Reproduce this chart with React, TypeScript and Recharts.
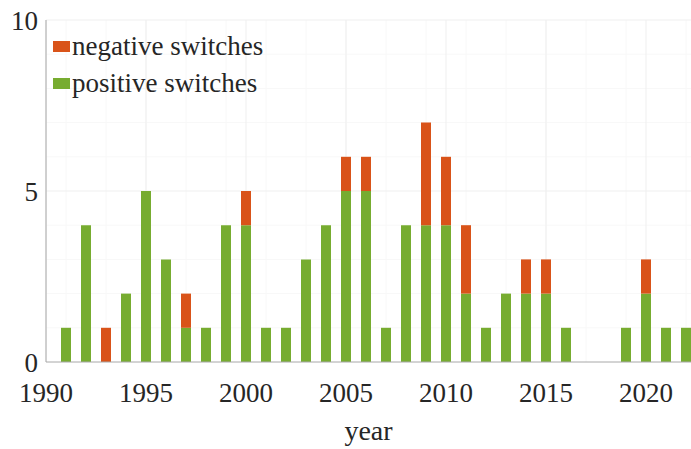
import React from 'react';
import {
  BarChart,
  Bar,
  XAxis,
  YAxis,
  CartesianGrid,
  Label,
} from 'recharts';

const years = [
  1991, 1992, 1993, 1994, 1995, 1996, 1997, 1998, 1999, 2000, 2001,
  2002, 2003, 2004, 2005, 2006, 2007, 2008, 2009, 2010, 2011, 2012,
  2013, 2014, 2015, 2016, 2017, 2018, 2019, 2020, 2021, 2022,
];
const positiveSwitches = [
  1, 4, 0, 2, 5, 3, 1, 1, 4, 4, 1,
  1, 3, 4, 5, 5, 1, 4, 4, 4, 2, 1,
  2, 2, 2, 1, 0, 0, 1, 2, 1, 1,
];
const negativeSwitches = [
  0, 0, 1, 0, 0, 0, 1, 0, 0, 1, 0,
  0, 0, 0, 1, 1, 0, 0, 3, 2, 2, 0,
  0, 1, 1, 0, 0, 0, 0, 1, 0, 0,
];
const xTicks = [1990, 1995, 2000, 2005, 2010, 2015, 2020];
const yTicks = [0, 5, 10];

const POS = '#77AC30';
const NEG = '#D95319';
const FONT =
  '"Times New Roman", Tinos, "Liberation Serif", "DejaVu Serif", "Noto Serif", serif';

const data = years.map((year, i) => ({
  year,
  positive: positiveSwitches[i],
  negative: negativeSwitches[i],
}));

const minorY = [1, 2, 3, 4, 6, 7, 8, 9];
const minorX = Array.from({ length: 33 }, (_, i) => 1990 + i);

// legend sits on top of the plot area, top-left corner
function SwitchLegend() {
  const items = [
    { label: 'negative switches', color: NEG },
    { label: 'positive switches', color: POS },
  ];
  return (
    <div
      style={{
        position: 'absolute',
        left: 53,
        top: 28,
        fontFamily: FONT,
        fontSize: 27,
        color: '#262626',
        lineHeight: '37px',
      }}
    >
      {items.map((it) => (
        <div key={it.label} style={{ display: 'flex', alignItems: 'center' }}>
          <span
            style={{
              display: 'inline-block',
              width: 17,
              height: 11,
              background: it.color,
              marginRight: 2,
            }}
          />
          <span>{it.label}</span>
        </div>
      ))}
    </div>
  );
}

export default function App() {
  return (
    <div style={{ position: 'absolute', left: 0, top: 0, background: '#fff' }}>
      <BarChart
        width={691}
        height={449}
        data={data}
        margin={{ top: 20, right: 0, bottom: 0, left: 0 }}
      >
        <CartesianGrid
          stroke="#f8f8f8"
          horizontalValues={minorY}
          verticalValues={minorX}
        />
        <CartesianGrid
          stroke="#efefef"
          horizontalValues={[5, 10]}
          verticalValues={xTicks}
        />
        <XAxis
          dataKey="year"
          type="number"
          domain={[1990, 2022.25]}
          ticks={xTicks}
          allowDataOverflow
          height={87}
          tickLine={false}
          stroke="#a8a8a8"
          tickMargin={15}
          tick={{ fill: '#262626', fontSize: 27, fontFamily: FONT }}
        >
          <Label
            value="year"
            position="insideBottom"
            offset={9}
            style={{ fill: '#262626', fontSize: 28, fontFamily: FONT }}
          />
        </XAxis>
        <YAxis
          domain={[0, 10]}
          ticks={yTicks}
          width={46}
          tickLine={false}
          stroke="#a8a8a8"
          tick={{ fill: '#262626', fontSize: 27, fontFamily: FONT }}
        />
        <Bar
          dataKey="positive"
          stackId="s"
          fill={POS}
          barSize={10}
          isAnimationActive={false}
        />
        <Bar
          dataKey="negative"
          stackId="s"
          fill={NEG}
          barSize={10}
          isAnimationActive={false}
        />
      </BarChart>
      <SwitchLegend />
    </div>
  );
}
